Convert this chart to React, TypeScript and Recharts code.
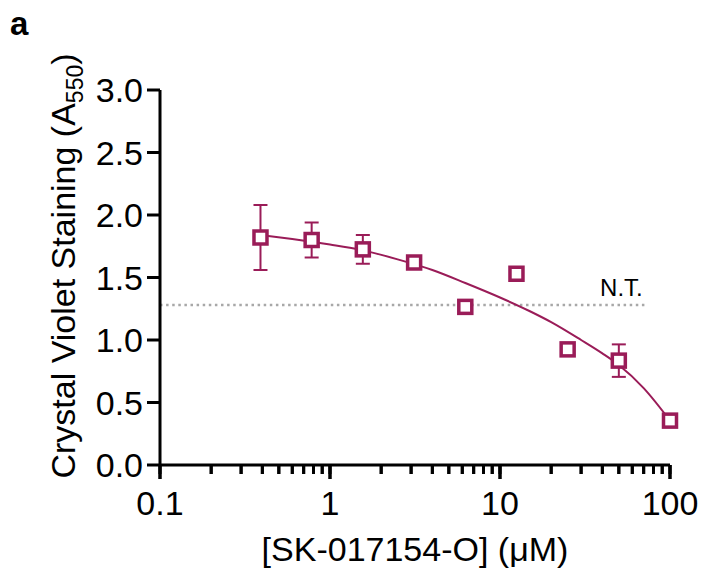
import React from 'react';
import {
  ComposedChart, Scatter, Line, XAxis, YAxis, ErrorBar, ReferenceLine, Label,
} from 'recharts';

// SK-017154-O dose response (mean ± SEM)
const concentrations = [0.39, 0.78, 1.56, 3.125, 6.25, 12.5, 25, 50, 100];
const means = [1.82, 1.80, 1.725, 1.62, 1.265, 1.53, 0.925, 0.835, 0.355];
const sems = [0.26, 0.14, 0.115, 0.02, 0.03, 0.04, 0.02, 0.13, 0.01];

// fitted curve
const fitX = [0.39, 0.6, 1, 1.5, 2.5, 4, 6.25, 10, 15, 20, 30, 40, 50, 70, 100];
const fitY = [1.84, 1.808, 1.764, 1.723, 1.645, 1.56, 1.456, 1.34, 1.23, 1.143, 1.0, 0.893, 0.80, 0.615, 0.355];

const ntLevel = 1.28;
const ntEnd = 73;

const xDomain = [0.1, 100];
const xMajor = [0.1, 1, 10, 100];
const xMinor = [0.2, 0.3, 0.4, 0.5, 0.6, 0.7, 0.8, 0.9, 2, 3, 4, 5, 6, 7, 8, 9, 20, 30, 40, 50, 60, 70, 80, 90];
const yTicks = [0, 0.5, 1, 1.5, 2, 2.5, 3];

const points = concentrations.map((c, i) => ({ conc: c, a550: means[i], sem: sems[i] }));
const fit = fitX.map((c, i) => ({ conc: c, a550: fitY[i] }));
const xTicks = [...xMajor, ...xMinor].sort((a, b) => a - b);

const MAROON = '#9a1c58';
const FONT = '"Liberation Sans", Arial, Helvetica, sans-serif';
const MAJOR_TICK = -0.112; // major ticks reach a bit further below the axis

const SquareMarker = (props: any) => {
  const { cx, cy } = props;
  if (cx == null || cy == null) return null;
  return (
    <rect x={cx - 6.5} y={cy - 6.5} width={13} height={13}
      fill="#fff" stroke={MAROON} strokeWidth={3.5} />
  );
};

const XTickLabel = (props: any) => {
  const { x, y, payload } = props;
  if (!xMajor.includes(payload.value)) return <g />;
  return (
    <text x={Number(x)} y={Number(y) + 41} textAnchor="middle" fontSize={34} fill="#000" fontFamily={FONT}>
      {String(payload.value)}
    </text>
  );
};

const YTitle = () => (
  <text x={75} y={266} transform="rotate(-90, 75, 266)" textAnchor="middle"
    fontSize={34} fill="#000" fontFamily={FONT}>
    Crystal Violet Staining (A
    <tspan fontSize={23} dy={8}>550</tspan>
    <tspan dy={-8}>)</tspan>
  </text>
);

// axis title, plus the log tick marks laid on the axis band (kept on the label layer)
const XTitle = (props: any) => {
  const vb = props.viewBox || { x: 160, y: 465, width: 510 };
  const span = Math.log10(xDomain[1] / xDomain[0]);
  const pos = (v: number) => vb.x + (vb.width * Math.log10(v / xDomain[0])) / span;
  return (
    <g>
      {xTicks.map((v) => (
        <line key={v} x1={pos(v)} x2={pos(v)} y1={vb.y} y2={vb.y + (xMajor.includes(v) ? 14 : 9)}
          stroke="#000" strokeWidth={3} />
      ))}
      <text x={415} y={561} textAnchor="middle" fontSize={34} fill="#000" fontFamily={FONT}>
        [SK-017154-O] (μM)
      </text>
    </g>
  );
};

const NTLabel = (props: any) => {
  const vb = props.viewBox || {};
  return (
    <text x={(vb.x ?? 0) + (vb.width ?? 0) - 4} y={(vb.y ?? 0) - 9} textAnchor="end"
      fontSize={24} fill="#000" fontFamily={FONT}>
      N.T.
    </text>
  );
};

export default function App() {
  return (
    <div style={{ position: 'absolute', left: 0, top: 0, width: 701, height: 569, background: '#fff' }}>
      <div style={{
        position: 'absolute', left: 10, top: 4, fontFamily: FONT, fontWeight: 700, fontSize: 33, lineHeight: '40px',
      }}>
        a
      </div>
      <ComposedChart width={701} height={569} margin={{ top: 90, right: 31, bottom: 0, left: 0 }}>
        <XAxis
          dataKey="conc" type="number" scale="log" domain={xDomain} ticks={xTicks}
          interval={0} height={104}
          axisLine={{ stroke: '#000', strokeWidth: 3 }}
          tickLine={{ stroke: '#000', strokeWidth: 3 }}
          tickSize={9} tickMargin={0} tick={<XTickLabel />}
        >
          <Label content={<XTitle />} />
        </XAxis>
        <YAxis
          type="number" domain={[0, 3]} ticks={yTicks} width={160} interval={0}
          tickFormatter={(v: number) => v.toFixed(1)}
          axisLine={{ stroke: '#000', strokeWidth: 3 }}
          tickLine={{ stroke: '#000', strokeWidth: 3 }}
          tickSize={13} tickMargin={4}
          tick={{ fontSize: 34, fill: '#000', fontFamily: FONT }}
        >
          <Label content={<YTitle />} />
        </YAxis>
        {xMajor.map((v) => (
          <ReferenceLine key={v} segment={[{ x: v, y: 0 }, { x: v, y: MAJOR_TICK }]}
            ifOverflow="visible" stroke="#000" strokeWidth={3} />
        ))}
        <ReferenceLine
          segment={[{ x: 0.1, y: ntLevel }, { x: ntEnd, y: ntLevel }]}
          stroke="#a8a8a8" strokeWidth={2.5} strokeDasharray="2.5 3.6"
          label={<NTLabel />}
        />
        <Scatter data={points} dataKey="a550" shape={<SquareMarker />} isAnimationActive={false}>
          <ErrorBar dataKey="sem" direction="y" width={7} stroke={MAROON} strokeWidth={2} />
        </Scatter>
        <Line data={fit} dataKey="a550" type="monotone" stroke={MAROON} strokeWidth={2}
          dot={false} activeDot={false} isAnimationActive={false} />
      </ComposedChart>
    </div>
  );
}
